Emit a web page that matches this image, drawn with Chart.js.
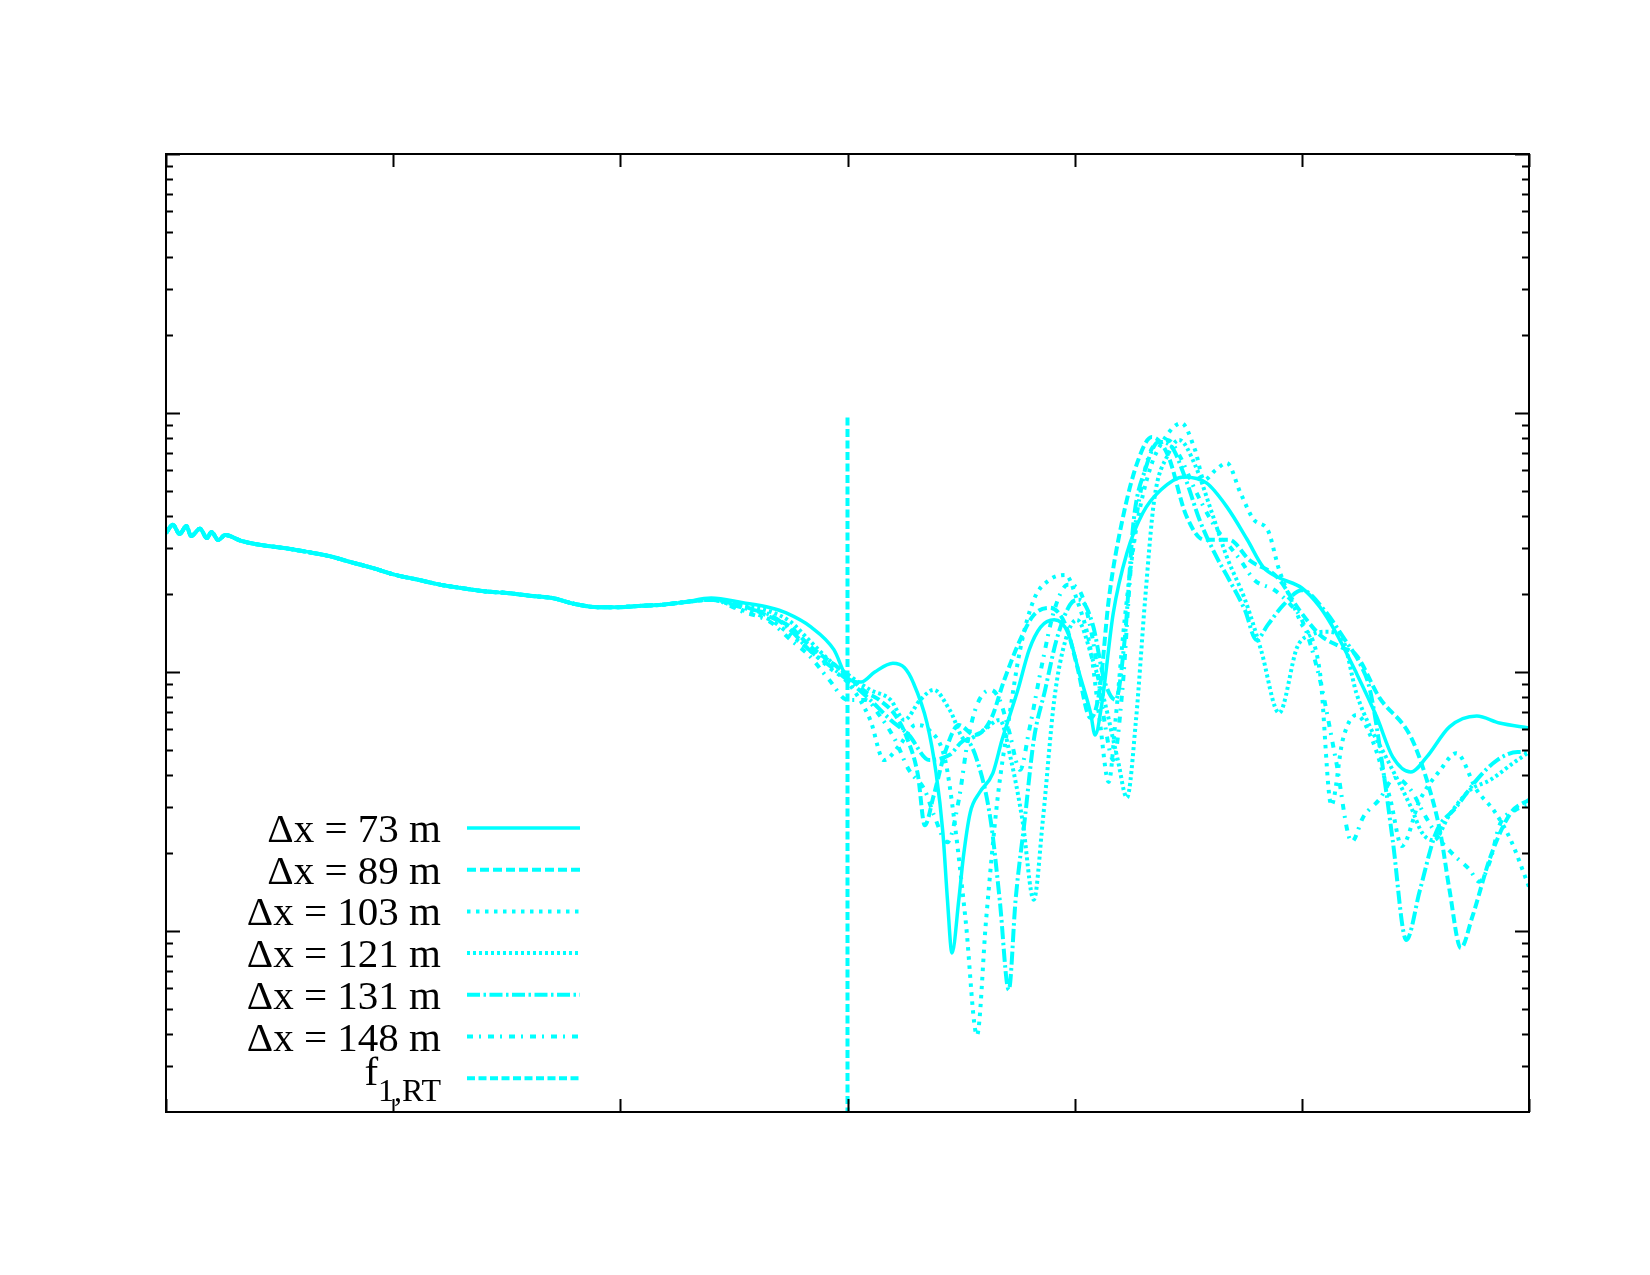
<!DOCTYPE html>
<html lang="en">
<head>
<meta charset="UTF-8">
<title>Spectrum vs grid spacing</title>
<script src="https://cdn.jsdelivr.net/npm/chart.js"></script>
<style>
    body { margin: 0; background: #fff; }
    #wrap { width: 1650px; height: 1275px; }
</style>
</head>
<body>
<div id="wrap"><canvas id="spec" width="1650" height="1275"></canvas></div>
<script>
// shared part of all runs (they overlap up to x ~ 2.3)
const baseX = [0, 0.03, 0.06, 0.09, 0.11, 0.15, 0.18, 0.20, 0.23, 0.26, 0.33, 0.42, 0.52, 0.62, 0.72, 0.81, 0.91, 1.01, 1.11, 1.21, 1.30, 1.40, 1.50, 1.60, 1.70, 1.80, 1.90, 1.99, 2.09, 2.19, 2.28];
const baseY = [0.0344, 0.0370, 0.0341, 0.0366, 0.0335, 0.0357, 0.0329, 0.0347, 0.0323, 0.0338, 0.0321, 0.0309, 0.0301, 0.0291, 0.0280, 0.0266, 0.0252, 0.0237, 0.0227, 0.0217, 0.0211, 0.0205, 0.0202, 0.0197, 0.0193, 0.0183, 0.0178, 0.0178, 0.0180, 0.0182, 0.0186];

// dx = 73 m
const t73X = [2.40, 2.54, 2.66, 2.73, 2.84, 2.94, 3.00, 3.06, 3.12, 3.20, 3.25, 3.29, 3.35, 3.39, 3.42, 3.44, 3.46, 3.49, 3.51, 3.54, 3.58, 3.64, 3.68, 3.75, 3.80, 3.85, 3.91, 3.97, 4.02, 4.07, 4.09, 4.12, 4.17, 4.23, 4.30, 4.38, 4.48, 4.58, 4.67, 4.76, 4.83, 4.90, 5.00, 5.08, 5.15, 5.24, 5.33, 5.40, 5.48, 5.55, 5.65, 5.77, 5.87, 6.00];
const t73Y = [0.0193, 0.0185, 0.0177, 0.0169, 0.0149, 0.0122, 0.00948, 0.00914, 0.0100, 0.0108, 0.0104, 0.00908, 0.00635, 0.00407, 0.00239, 0.00132, 0.000822, 0.00132, 0.00193, 0.00286, 0.00341, 0.00407, 0.00546, 0.00853, 0.0122, 0.0149, 0.0159, 0.0142, 0.00991, 0.00695, 0.00571, 0.00759, 0.0169, 0.0288, 0.0411, 0.0505, 0.0566, 0.0537, 0.0434, 0.0324, 0.0254, 0.0231, 0.0211, 0.0178, 0.0142, 0.00991, 0.00670, 0.00470, 0.00411, 0.00470, 0.00614, 0.00676, 0.00635, 0.00608];

// dx = 89 m
const t89X = [2.40, 2.54, 2.66, 2.75, 2.83, 2.97, 3.08, 3.14, 3.21, 3.26, 3.31, 3.34, 3.38, 3.43, 3.49, 3.56, 3.63, 3.69, 3.76, 3.82, 3.89, 3.96, 4.01, 4.07, 4.11, 4.15, 4.21, 4.28, 4.34, 4.41, 4.49, 4.57, 4.68, 4.77, 4.89, 4.99, 5.08, 5.17, 5.24, 5.34, 5.48, 5.55, 5.61, 5.65, 5.70, 5.75, 5.83, 5.92, 6.00];
const t89Y = [0.0190, 0.0180, 0.0163, 0.0149, 0.0127, 0.0102, 0.00838, 0.00780, 0.00682, 0.00561, 0.00400, 0.00256, 0.00335, 0.00491, 0.00624, 0.00571, 0.00653, 0.00931, 0.0133, 0.0166, 0.0177, 0.0152, 0.0106, 0.00664, 0.00853, 0.0190, 0.0386, 0.0659, 0.0807, 0.0689, 0.0404, 0.0324, 0.0324, 0.0270, 0.0233, 0.0173, 0.0139, 0.0125, 0.0116, 0.00800, 0.00561, 0.00383, 0.00239, 0.00144, 0.000859, 0.00113, 0.00193, 0.00286, 0.00321];

// dx = 103 m
const t103X = [2.40, 2.54, 2.66, 2.75, 2.83, 2.92, 3.01, 3.10, 3.16, 3.23, 3.30, 3.36, 3.43, 3.47, 3.52, 3.57, 3.61, 3.66, 3.71, 3.76, 3.82, 3.89, 3.96, 4.01, 4.07, 4.11, 4.15, 4.18, 4.22, 4.27, 4.33, 4.40, 4.47, 4.53, 4.57, 4.62, 4.67, 4.73, 4.79, 4.85, 4.90, 4.99, 5.08, 5.13, 5.18, 5.24, 5.31, 5.39, 5.44, 5.52, 5.61, 5.68, 5.77, 5.85, 5.92, 6.00];
const t103Y = [0.0190, 0.0173, 0.0159, 0.0139, 0.0122, 0.0104, 0.00891, 0.00653, 0.00457, 0.00522, 0.00624, 0.00597, 0.00457, 0.00268, 0.00110, 0.000396, 0.00110, 0.00321, 0.00653, 0.0122, 0.0190, 0.0227, 0.0237, 0.0190, 0.0122, 0.00653, 0.00376, 0.00653, 0.0159, 0.0353, 0.0602, 0.0807, 0.0914, 0.0720, 0.0551, 0.0602, 0.0641, 0.0491, 0.0386, 0.0353, 0.0248, 0.0159, 0.00991, 0.00306, 0.00546, 0.00682, 0.00546, 0.00321, 0.00213, 0.00321, 0.00419, 0.00486, 0.00350, 0.00288, 0.00224, 0.00148];

// dx = 121 m
const t121X = [2.40, 2.54, 2.66, 2.75, 2.83, 2.92, 3.01, 3.10, 3.19, 3.25, 3.32, 3.38, 3.45, 3.52, 3.60, 3.67, 3.72, 3.77, 3.82, 3.86, 3.91, 3.96, 4.01, 4.08, 4.13, 4.19, 4.23, 4.27, 4.31, 4.35, 4.41, 4.46, 4.53, 4.60, 4.67, 4.75, 4.82, 4.90, 4.98, 5.04, 5.11, 5.18, 5.24, 5.30, 5.37, 5.48, 5.53, 5.58, 5.65, 5.74, 5.83, 5.92, 6.00];
const t121Y = [0.0190, 0.0180, 0.0171, 0.0156, 0.0133, 0.0111, 0.00966, 0.00853, 0.00780, 0.00653, 0.00780, 0.00853, 0.00713, 0.00546, 0.00597, 0.00653, 0.00457, 0.00268, 0.00132, 0.00268, 0.00780, 0.0133, 0.0159, 0.0111, 0.00780, 0.00457, 0.00327, 0.00653, 0.0190, 0.0461, 0.0689, 0.0787, 0.0630, 0.0422, 0.0278, 0.0190, 0.0122, 0.00695, 0.0125, 0.0139, 0.0143, 0.0133, 0.00830, 0.00614, 0.00470, 0.00301, 0.00239, 0.00224, 0.00281, 0.00350, 0.00383, 0.00438, 0.00491];

// dx = 131 m
const t131X = [2.40, 2.54, 2.66, 2.75, 2.83, 2.92, 3.00, 3.10, 3.19, 3.27, 3.36, 3.45, 3.52, 3.57, 3.63, 3.67, 3.71, 3.74, 3.78, 3.82, 3.87, 3.92, 3.98, 4.02, 4.08, 4.13, 4.18, 4.22, 4.26, 4.31, 4.37, 4.42, 4.49, 4.55, 4.62, 4.68, 4.75, 4.80, 4.85, 4.92, 5.00, 5.10, 5.19, 5.26, 5.30, 5.36, 5.40, 5.46, 5.52, 5.59, 5.68, 5.77, 5.86, 5.95, 6.00];
const t131Y = [0.0190, 0.0177, 0.0166, 0.0145, 0.0122, 0.0106, 0.00931, 0.00780, 0.00653, 0.00571, 0.00457, 0.00479, 0.00546, 0.00457, 0.00268, 0.00132, 0.000592, 0.00132, 0.00268, 0.00546, 0.00853, 0.0133, 0.0182, 0.0190, 0.0152, 0.00931, 0.00780, 0.0133, 0.0386, 0.0602, 0.0773, 0.0752, 0.0551, 0.0386, 0.0283, 0.0227, 0.0173, 0.0133, 0.0152, 0.0182, 0.0207, 0.0173, 0.0133, 0.0106, 0.00853, 0.00407, 0.00224, 0.000923, 0.00144, 0.00239, 0.00301, 0.00383, 0.00457, 0.00491, 0.00491];

// dx = 148 m
const t148X = [2.40, 2.54, 2.66, 2.75, 2.83, 2.92, 3.00, 3.08, 3.14, 3.21, 3.27, 3.34, 3.38, 3.44, 3.49, 3.53, 3.57, 3.63, 3.67, 3.71, 3.76, 3.80, 3.86, 3.91, 3.97, 4.02, 4.08, 4.13, 4.17, 4.21, 4.25, 4.30, 4.35, 4.41, 4.46, 4.53, 4.60, 4.66, 4.73, 4.79, 4.88, 4.95, 5.00, 5.08, 5.15, 5.22, 5.27, 5.34, 5.41, 5.48, 5.54, 5.61, 5.67, 5.74, 5.78, 5.83, 5.87, 5.94, 6.00];
const t148Y = [0.0190, 0.0171, 0.0156, 0.0133, 0.0116, 0.00931, 0.00780, 0.00780, 0.00682, 0.00546, 0.00419, 0.00350, 0.00281, 0.00220, 0.00321, 0.00546, 0.00746, 0.00853, 0.00780, 0.00597, 0.00419, 0.00597, 0.0111, 0.0173, 0.0217, 0.0207, 0.0133, 0.00653, 0.00457, 0.00853, 0.0270, 0.0551, 0.0752, 0.0787, 0.0689, 0.0505, 0.0386, 0.0324, 0.0270, 0.0227, 0.0207, 0.0182, 0.0159, 0.00931, 0.00457, 0.00221, 0.00275, 0.00321, 0.00390, 0.00350, 0.00281, 0.00224, 0.00196, 0.00172, 0.00155, 0.00188, 0.00256, 0.00293, 0.00306];

// f_1,RT marker line
const rtX = [3, 3];
const rtY = [0.096, 0.0002];

const runLabels = ['Δx = 73 m', 'Δx = 89 m', 'Δx = 103 m', 'Δx = 121 m', 'Δx = 131 m', 'Δx = 148 m'];
const runDashes = [[], [9, 4], [3.5, 5.5], [3, 3], [13, 3.5, 2.5, 3.5], [6, 6, 2, 7]];
const runTails = [[t73X, t73Y], [t89X, t89Y], [t103X, t103Y], [t121X, t121Y], [t131X, t131Y], [t148X, t148Y]];

const xTicks = [0, 1, 2, 3, 4, 5, 6];
const yMajor = [0.001, 0.01, 0.1, 1];
const yMin = 0.0002, yMax = 1;

const cyan = 'rgb(0,255,255)';

function pairUp(xs, ys) {
    return xs.map((x, i) => ({ x: x, y: ys[i] }));
}

const datasets = runLabels.map((lab, i) => ({
    label: lab,
    data: pairUp(baseX.concat(runTails[i][0]), baseY.concat(runTails[i][1])),
    borderColor: cyan,
    borderWidth: i === 0 ? 3.5 : 4,
    borderDash: runDashes[i],
    cubicInterpolationMode: 'monotone',
    pointRadius: 0,
    fill: false
}));
datasets.push({
    label: 'f',
    sub: '1,RT',
    data: pairUp(rtX, rtY),
    borderColor: cyan,
    borderWidth: 4,
    borderDash: [8, 3.5],
    pointRadius: 0,
    fill: false
});

// gnuplot style border with inward ticks on all four sides
const frame = {
    id: 'frame',
    afterDatasetsDraw(chart) {
        const { ctx, chartArea: a, scales: { x, y } } = chart;
        ctx.save();
        ctx.strokeStyle = '#000';
        ctx.lineWidth = 2;
        ctx.setLineDash([]);
        ctx.beginPath();
        xTicks.forEach(v => {
            const px = Math.round(x.getPixelForValue(v)) + 0.5;
            ctx.moveTo(px, a.bottom); ctx.lineTo(px, a.bottom - 13);
            ctx.moveTo(px, a.top); ctx.lineTo(px, a.top + 13);
        });
        yMajor.forEach(v => {
            const py = Math.round(y.getPixelForValue(v)) + 0.5;
            ctx.moveTo(a.left, py); ctx.lineTo(a.left + 14, py);
            ctx.moveTo(a.right, py); ctx.lineTo(a.right - 14, py);
        });
        [0.0001, 0.001, 0.01, 0.1].forEach(d => {
            for (let m = 2; m <= 9; m++) {
                const v = m * d;
                if (v <= yMin || v > yMax) continue;
                const py = Math.round(y.getPixelForValue(v)) + 0.5;
                ctx.moveTo(a.left, py); ctx.lineTo(a.left + 7, py);
                ctx.moveTo(a.right, py); ctx.lineTo(a.right - 7, py);
            }
        });
        ctx.stroke();
        ctx.strokeRect(a.left, a.top, a.right - a.left, a.bottom - a.top);
        ctx.restore();
    }
};

// key in the lower left, labels right aligned, samples to the right
const key = {
    id: 'key',
    afterDraw(chart) {
        const ctx = chart.ctx;
        const textRight = 441, lineLeft = 467, lineRight = 580, top = 828, step = 41.7;
        ctx.save();
        chart.data.datasets.forEach((ds, i) => {
            const yRow = top + i * step;
            ctx.fillStyle = '#000';
            ctx.textAlign = 'right';
            ctx.textBaseline = 'alphabetic';
            if (ds.sub) {
                ctx.font = '32px "Liberation Serif"';
                const w = ctx.measureText(ds.sub).width;
                ctx.fillText(ds.sub, textRight, yRow + 23);
                ctx.font = '41px "Liberation Serif"';
                ctx.fillText(ds.label, textRight - w, yRow + 7);
            } else {
                ctx.font = '41px "Liberation Serif"';
                ctx.fillText(ds.label, textRight, yRow + 14);
            }
            ctx.strokeStyle = ds.borderColor;
            ctx.lineWidth = ds.borderWidth;
            ctx.setLineDash(ds.borderDash);
            ctx.beginPath();
            ctx.moveTo(lineLeft, yRow);
            ctx.lineTo(lineRight, yRow);
            ctx.stroke();
        });
        ctx.restore();
    }
};

new Chart(document.getElementById('spec').getContext('2d'), {
    type: 'line',
    data: { datasets: datasets },
    options: {
        responsive: false,
        animation: false,
        devicePixelRatio: 1,
        layout: { padding: { left: 166, top: 154, right: 121, bottom: 163 } },
        scales: {
            x: { type: 'linear', min: 0, max: 6, display: false },
            y: { type: 'logarithmic', min: yMin, max: yMax, display: false }
        },
        plugins: { legend: { display: false }, tooltip: { enabled: false } },
        elements: { line: { borderCapStyle: 'butt' } }
    },
    plugins: [frame, key]
});
</script>
</body>
</html>
